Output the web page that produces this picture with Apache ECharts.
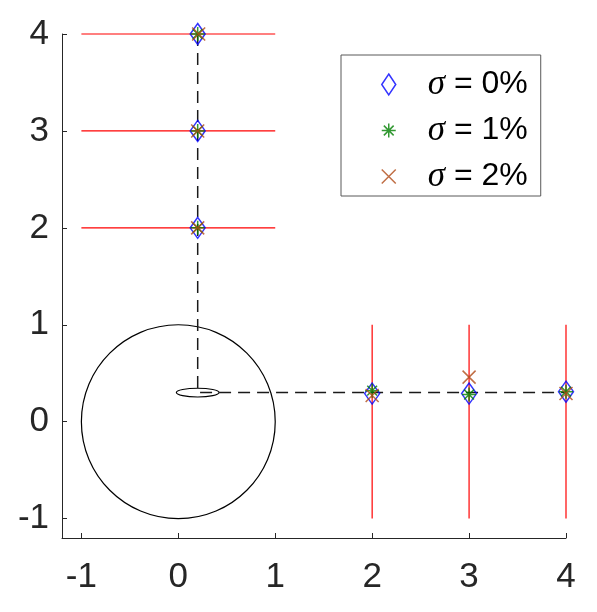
<!DOCTYPE html>
<html>
<head>
<meta charset="utf-8">
<script src="https://cdn.jsdelivr.net/npm/echarts@6/dist/echarts.min.js"></script>
<style>
  html, body { margin: 0; padding: 0; background: #fff; }
  #chart { width: 597px; height: 612px; }
</style>
</head>
<body>
<div id="chart"></div>
<script>
// ticks
var xTicks = [-1, 0, 1, 2, 3, 4];
var yTicks = [-1, 0, 1, 2, 3, 4];

var legendNames = ['σ = 0%', 'σ = 1%', 'σ = 2%'];

// estimated positions
var sigma0 = [[0.2, 4], [0.2, 3], [0.2, 2], [2, 0.29], [3, 0.29], [4, 0.31]];
var sigma1 = [[0.2, 4], [0.2, 3], [0.2, 2], [2, 0.32], [3, 0.28], [4, 0.31]];
var sigma2 = [[0.21, 4], [0.2, 3], [0.2, 2], [2, 0.27], [3, 0.46], [4, 0.29]];

// red bars: [x1, y1, x2, y2]
var redSegments = [
    [-1, 4, 1, 4], [-1, 3, 1, 3], [-1, 2, 1, 2],
    [2, -1, 2, 1], [3, -1, 3, 1], [4, -1, 4, 1]
];

var dashedPath = [[0.2, 4], [0.2, 0.3], [4, 0.3]];

// ellipses: [cx, cy, rx, ry]
var ellipses = [[0, 0, 1, 1], [0.2, 0.3, 0.22, 0.045]];

var axisColor = '#262626';
var asterisk = 'path://M0,-10L0,10M-10,0L10,0M-7,-7L7,7M-7,7L7,-7';
var cross = 'path://M-10,-10L10,10M-10,10L10,-10';

var dom = document.getElementById('chart');
var myChart = echarts.init(dom, null, { renderer: 'canvas' });

var option = {
    animation: false,
    grid: { left: 62, right: 31, top: 34, bottom: 74 },
    xAxis: {
        type: 'value',
        min: -1.2,
        max: 4,
        axisLine: { onZero: false, lineStyle: { color: axisColor, width: 1 } },
        axisTick: { inside: true, length: 5, customValues: xTicks, lineStyle: { color: axisColor } },
        axisLabel: {
            customValues: xTicks,
            color: axisColor,
            fontSize: 35,
            fontFamily: 'Liberation Sans',
            margin: 22
        },
        splitLine: { show: false }
    },
    yAxis: {
        type: 'value',
        min: -1.2,
        max: 4,
        axisLine: { show: true, onZero: false, lineStyle: { color: axisColor, width: 1 } },
        axisTick: { show: true, inside: true, length: 5, customValues: yTicks, lineStyle: { color: axisColor } },
        axisLabel: {
            customValues: yTicks,
            color: axisColor,
            fontSize: 35,
            fontFamily: 'Liberation Sans',
            margin: 13
        },
        splitLine: { show: false }
    },
    legend: {
        orient: 'vertical',
        left: 341,
        top: 55,
        padding: [12, 13, 2, 40],
        itemGap: 11,
        itemWidth: 14,
        itemHeight: 21,
        borderColor: '#595959',
        borderWidth: 1,
        backgroundColor: '#fff',
        textStyle: {
            fontSize: 32,
            fontFamily: 'Liberation Sans',
            color: '#000',
            padding: [0, 0, 0, 27],
            rich: {
                s: { fontFamily: 'Liberation Serif', fontStyle: 'italic', fontSize: 35 }
            }
        },
        formatter: function (name) {
            return name.replace('σ', '{s|σ}');
        },
        data: [
            { name: legendNames[0], icon: 'diamond', itemStyle: { color: 'transparent', borderColor: '#0000ff', borderWidth: 1.5 } },
            { name: legendNames[1], icon: asterisk, itemStyle: { color: 'transparent', borderColor: '#008000', borderWidth: 1.5 } },
            { name: legendNames[2], icon: cross, itemStyle: { color: 'transparent', borderColor: '#b04a16', borderWidth: 1.5 } }
        ]
    },
    series: [
        {
            type: 'custom',
            coordinateSystem: 'cartesian2d',
            silent: true,
            data: ellipses,
            renderItem: function (params, api) {
                var c = api.coord([api.value(0), api.value(1)]);
                var s = api.size([api.value(2), api.value(3)]);
                return {
                    type: 'ellipse',
                    shape: { cx: c[0], cy: c[1], rx: s[0], ry: s[1] },
                    style: { fill: 'none', stroke: '#000', lineWidth: 1.2 }
                };
            },
            z: 1
        },
        {
            type: 'custom',
            coordinateSystem: 'cartesian2d',
            silent: true,
            data: redSegments,
            renderItem: function (params, api) {
                var a = api.coord([api.value(0), api.value(1)]);
                var b = api.coord([api.value(2), api.value(3)]);
                return {
                    type: 'line',
                    shape: { x1: a[0], y1: a[1], x2: b[0], y2: b[1] },
                    style: { stroke: '#ff0000', lineWidth: 1.2 }
                };
            },
            z: 2
        },
        {
            type: 'line',
            data: dashedPath,
            symbol: 'none',
            silent: true,
            lineStyle: { color: '#1a1a1a', width: 1.5, type: [12, 7] },
            z: 3
        },
        {
            name: legendNames[0],
            type: 'scatter',
            data: sigma0,
            symbol: 'diamond',
            symbolSize: [15, 21],
            itemStyle: { color: 'transparent', borderColor: '#0000ff', borderWidth: 1.5 },
            z: 4
        },
        {
            name: legendNames[1],
            type: 'scatter',
            data: sigma1,
            symbol: asterisk,
            symbolSize: 14,
            itemStyle: { color: 'transparent', borderColor: '#008000', borderWidth: 1.5 },
            z: 5
        },
        {
            name: legendNames[2],
            type: 'scatter',
            data: sigma2,
            symbol: cross,
            symbolSize: 13,
            itemStyle: { color: 'transparent', borderColor: '#b04a16', borderWidth: 1.5 },
            z: 6
        }
    ]
};

myChart.setOption(option);
window.addEventListener('resize', myChart.resize);
</script>
</body>
</html>
